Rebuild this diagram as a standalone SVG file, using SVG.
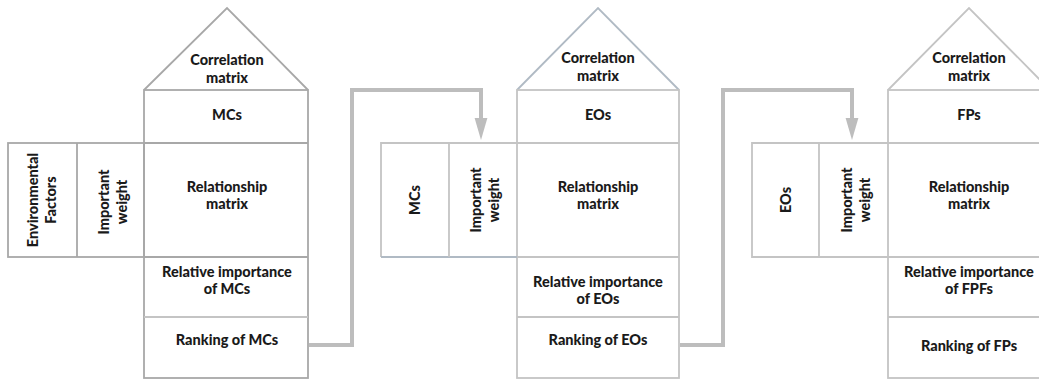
<svg xmlns="http://www.w3.org/2000/svg" width="1039" height="379" viewBox="0 0 1039 379">
<style>
.c{fill:none;stroke:#c4c4c4;stroke-width:1.8}
.d{fill:none;stroke:#a8a8a8;stroke-width:1.8}
.b{fill:none;stroke:#b0bac4;stroke-width:1.8}
.t{font-family:Lato,"Open Sans",sans-serif;font-weight:900;font-size:14.5px;fill:#1a1a1a;text-anchor:middle}
.k{fill:none;stroke:#bdbdbd;stroke-width:4}
</style>
<defs>
<marker id="ah" markerWidth="5.5" markerHeight="4" refX="1" refY="2" orient="auto" markerUnits="strokeWidth" viewBox="0 0 5.5 4">
<path d="M0,0.4 L5.5,2 L0,3.6 Z" fill="#bdbdbd"/>
</marker>
</defs>
<g id="house1">
<path class="d" d="M144,90 L227,8 L308,90"/>
<rect class="d" x="144" y="90" width="164" height="288"/>
<line class="d" x1="144" y1="143" x2="308" y2="143"/>
<line class="d" x1="144" y1="257" x2="308" y2="257"/>
<line class="c" x1="144" y1="317" x2="308" y2="317"/>
<rect class="d" x="8" y="143" width="136" height="114"/>
<line class="d" x1="77" y1="143" x2="77" y2="257"/>
<text class="t" x="227" y="65">Correlation</text>
<text class="t" x="227" y="83">matrix</text>
<text class="t" x="227" y="120">MCs</text>
<text class="t" x="227" y="192">Relationship</text>
<text class="t" x="227" y="209">matrix</text>
<text class="t" x="227" y="277">Relative importance</text>
<text class="t" x="227" y="294">of MCs</text>
<text class="t" x="227" y="345">Ranking of MCs</text>
<text class="t" transform="translate(38,200) rotate(-90)">Environmental</text>
<text class="t" transform="translate(56,200) rotate(-90)">Factors</text>
<text class="t" transform="translate(109,202) rotate(-90)">Important</text>
<text class="t" transform="translate(127,202) rotate(-90)">weight</text>
</g>
<g id="house2">
<path class="b" d="M517,90 L598,8 L679,90"/>
<rect class="c" x="517" y="90" width="162" height="288"/>
<line class="c" x1="517" y1="143" x2="679" y2="143"/>
<line class="c" x1="517" y1="257" x2="679" y2="257"/>
<line class="c" x1="517" y1="317" x2="679" y2="317"/>
<path class="c" d="M517,143 L381,143 L381,257"/>
<line class="b" x1="381" y1="257" x2="517" y2="257"/>
<line class="c" x1="449" y1="143" x2="449" y2="257"/>
<text class="t" x="598" y="63">Correlation</text>
<text class="t" x="598" y="81">matrix</text>
<text class="t" x="598" y="120">EOs</text>
<text class="t" x="598" y="192">Relationship</text>
<text class="t" x="598" y="209">matrix</text>
<text class="t" x="598" y="287">Relative importance</text>
<text class="t" x="598" y="304">of EOs</text>
<text class="t" x="598" y="345">Ranking of EOs</text>
<text class="t" transform="translate(420,200) rotate(-90)">MCs</text>
<text class="t" transform="translate(481,200) rotate(-90)">Important</text>
<text class="t" transform="translate(499,200) rotate(-90)">weight</text>
</g>
<g id="house3">
<path class="c" d="M888,90 L969,8 L1050,90"/>
<rect class="c" x="888" y="90" width="164" height="288"/>
<line class="c" x1="888" y1="143" x2="1052" y2="143"/>
<line class="c" x1="888" y1="257" x2="1052" y2="257"/>
<line class="c" x1="888" y1="317" x2="1052" y2="317"/>
<path class="c" d="M888,143 L752,143 L752,257 L888,257"/>
<line class="c" x1="819" y1="143" x2="819" y2="257"/>
<text class="t" x="969" y="63">Correlation</text>
<text class="t" x="969" y="81">matrix</text>
<text class="t" x="969" y="120">FPs</text>
<text class="t" x="969" y="192">Relationship</text>
<text class="t" x="969" y="209">matrix</text>
<text class="t" x="969" y="277">Relative importance</text>
<text class="t" x="969" y="294">of FPFs</text>
<text class="t" x="969" y="351">Ranking of FPs</text>
<text class="t" transform="translate(791,200) rotate(-90)">EOs</text>
<text class="t" transform="translate(852,200) rotate(-90)">Important</text>
<text class="t" transform="translate(870,200) rotate(-90)">weight</text>
</g>
<g id="connectors">
<path class="k" d="M309,345 L352,345 L352,90 L481,90 L481,122" marker-end="url(#ah)"/>
<path class="k" d="M680,345 L723,345 L723,90 L852,90 L852,122" marker-end="url(#ah)"/>
</g>
</svg>
